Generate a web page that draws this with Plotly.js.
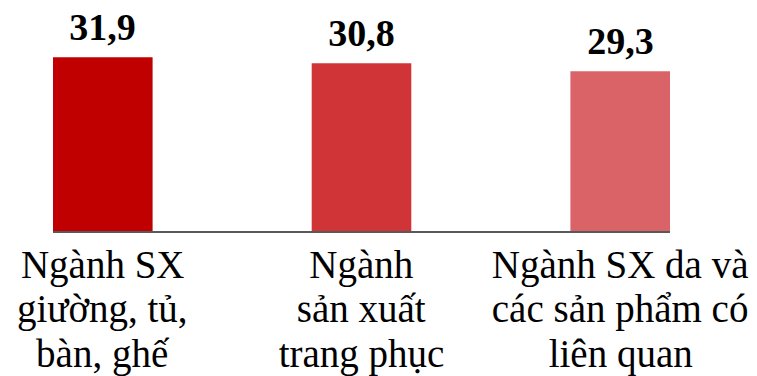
<!DOCTYPE html>
<html>
<head>
<meta charset="utf-8">
<script src="https://cdn.plot.ly/plotly-3.0.1.min.js"></script>
<style>
html,body{margin:0;padding:0;background:#fff;}
#chart{width:757px;height:376px;}
#chart .annotation-text{transform-box:fill-box;transform-origin:center center;}
</style>
</head>
<body>
<div id="chart"></div>
<script>
var categories = ["Ngành SX<br>giường, tủ,<br>bàn, ghế", "Ngành<br>sản xuất<br>trang phục", "Ngành SX da và<br>các sản phẩm có<br>liên quan"];
var values = [31.9, 30.8, 29.3];
var valueLabels = ["31,9", "30,8", "29,3"];
var barColors = ["#C00000", "#D03436", "#D96366"];

var FONT = 'Liberation Serif';
var BASE = 28;            // drawn size; scaled up afterwards
var LABEL_SIZE = 39, VALUE_SIZE = 38;

var trace = {
  type: 'bar',
  x: categories,
  y: values,
  width: 0.385,
  marker: {color: barColors, line: {width: 0}},
  hoverinfo: 'none'
};

var annotations = [];
var scales = [];
categories.forEach(function (cat, i) {
  annotations.push({
    x: cat, y: values[i], xref: 'x', yref: 'y',
    text: '<b>' + valueLabels[i] + '</b>', showarrow: false,
    xanchor: 'center', yanchor: 'middle', yshift: 30,
    font: {family: FONT, size: BASE, color: '#000'}
  });
  scales.push(VALUE_SIZE / BASE);
  cat.split('<br>').forEach(function (line, j) {
    annotations.push({
      x: cat, y: 0, xref: 'x', yref: 'y',
      text: line, showarrow: false,
      xanchor: 'center', yanchor: 'middle', yshift: -33 - j * 44.5,
      font: {family: FONT, size: BASE, color: '#000'}
    });
    scales.push(LABEL_SIZE / BASE);
  });
});

var layout = {
  width: 757, height: 376,
  margin: {l: 53, r: 87, t: 0, b: 145, pad: 0},
  paper_bgcolor: '#fff', plot_bgcolor: '#fff',
  showlegend: false,
  xaxis: {
    type: 'category', range: [-0.1925, 2.1925],
    showline: true, linecolor: '#595959', linewidth: 2,
    showticklabels: false, ticks: '', showgrid: false, zeroline: false
  },
  yaxis: {
    range: [0, 42.4], visible: false, showgrid: false, zeroline: false
  },
  annotations: annotations
};

function applyScale() {
  var gd = document.getElementById('chart');
  scales.forEach(function (k, i) {
    var t = gd.querySelector('.annotation[data-index="' + i + '"] .annotation-text');
    if (t) t.style.transform = 'scale(' + k + ')';
  });
}

var p = Plotly.newPlot('chart', [trace], layout, {staticPlot: true, displayModeBar: false});
applyScale();
if (p && p.then) p.then(applyScale);
</script>
</body>
</html>
